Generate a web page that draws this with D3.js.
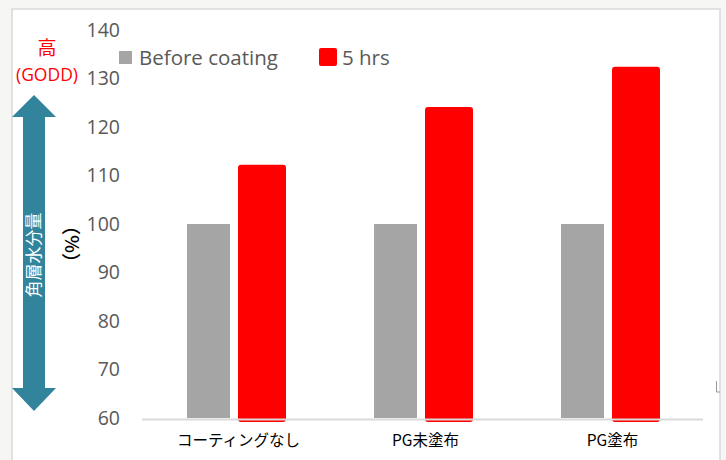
<!DOCTYPE html>
<html>
<head>
<meta charset="utf-8">
<script src="https://cdn.jsdelivr.net/npm/d3@7"></script>
<style>
  body { margin: 0; background: #f6f7f4; }
  svg { display: block; }
</style>
</head>
<body>
<div id="chart"></div>
<script>
// chart data
var categories = ["コーティングなし", "PG未塗布", "PG塗布"];
var seriesNames = ["Before coating", "5 hrs"];
var beforeValues = [100, 100, 100];
var afterValues = [112.2, 124.1, 132.4];
var yTicks = [60, 70, 80, 90, 100, 110, 120, 130, 140];

var W = 726, H = 460;
var cjk = "'Noto Sans CJK JP', 'Noto Sans', sans-serif";
var latin = "'Open Sans', 'Liberation Sans', sans-serif";

var svg = d3.select("#chart").append("svg")
    .attr("width", W)
    .attr("height", H);

// white panel with light frame
svg.append("rect")
    .attr("x", 12).attr("y", 9)
    .attr("width", 708).attr("height", H)
    .attr("fill", "#fff")
    .attr("stroke", "#d9d9d9")
    .attr("stroke-width", 1.5);

//scales
var xScale = d3.scaleBand()
    .domain(categories)
    .range([143, 704])
    .padding(0);

var yScale = d3.scaleLinear()
    .domain([60, 140])
    .range([418, 30]);

// y tick labels (no axis line)
var yAxis = d3.axisLeft(yScale)
    .tickValues(yTicks)
    .tickSize(0)
    .tickPadding(0);

var yg = svg.append("g")
    .attr("transform", "translate(120,0)")
    .call(yAxis);
yg.select(".domain").remove();
yg.selectAll("text")
    .attr("fill", "#595959")
    .style("font-family", latin)
    .style("font-size", "19.5px");

// bars
var grayOff = 44, grayW = 43, redOff = 95, redW = 48;

svg.selectAll(".bar-before")
    .data(beforeValues)
    .enter().append("rect")
    .attr("class", "bar-before")
    .attr("x", function(d, i) { return xScale(categories[i]) + grayOff; })
    .attr("y", function(d) { return yScale(d); })
    .attr("width", grayW)
    .attr("height", function(d) { return yScale(60) - yScale(d); })
    .attr("fill", "#a5a5a5");

svg.selectAll(".bar-after")
    .data(afterValues)
    .enter().append("rect")
    .attr("class", "bar-after")
    .attr("x", function(d, i) { return xScale(categories[i]) + redOff; })
    .attr("y", function(d) { return yScale(d); })
    .attr("width", redW)
    .attr("height", function(d) { return yScale(60) - yScale(d) + 4; })
    .attr("rx", 3)
    .attr("fill", "#ff0000");

// x axis line
svg.append("line")
    .attr("x1", 142).attr("x2", 703)
    .attr("y1", 419.5).attr("y2", 419.5)
    .attr("stroke", "#d9d9d9")
    .attr("stroke-width", 2);

// x labels
var xAxis = d3.axisBottom(xScale).tickSize(0).tickPadding(0);
var xg = svg.append("g")
    .attr("transform", "translate(0,438)")
    .call(xAxis);
xg.select(".domain").remove();
xg.selectAll("text")
    .attr("fill", "#000")
    .attr("dy", "0.5em")
    .attr("dx", 2)
    .style("font-family", cjk)
    .style("font-size", "15.5px");

// legend
var legend = svg.append("g");
legend.append("rect")
    .attr("x", 119).attr("y", 51).attr("width", 13).attr("height", 13)
    .attr("fill", "#a5a5a5");
legend.append("text")
    .attr("x", 139).attr("y", 65)
    .attr("fill", "#595959")
    .style("font-family", latin)
    .style("font-size", "20.5px")
    .text(seriesNames[0]);
legend.append("rect")
    .attr("x", 319).attr("y", 48).attr("width", 18).attr("height", 18)
    .attr("rx", 2)
    .attr("fill", "#ff0000");
legend.append("text")
    .attr("x", 342).attr("y", 65)
    .attr("fill", "#595959")
    .style("font-family", latin)
    .style("font-size", "20.5px")
    .text(seriesNames[1]);

// left annotation: 高 (GODD) and double arrow
svg.append("text")
    .attr("x", 47).attr("y", 55)
    .attr("text-anchor", "middle")
    .attr("fill", "#ff0000")
    .style("font-family", cjk)
    .style("font-size", "19px")
    .text("高");
svg.append("text")
    .attr("x", 47).attr("y", 81)
    .attr("text-anchor", "middle")
    .attr("fill", "#ff0000")
    .style("font-family", latin)
    .style("font-size", "17.5px")
    .text("(GODD)");

var arrowPts = [
  [34, 95], [56, 117], [45, 117], [45, 388], [56, 388],
  [34, 411], [12, 388], [23, 388], [23, 117], [12, 117]
];
svg.append("path")
    .attr("d", d3.line()(arrowPts) + "Z")
    .attr("fill", "#31849b");

svg.append("text")
    .attr("transform", "translate(40,255) rotate(-90)")
    .attr("text-anchor", "middle")
    .attr("fill", "#fff")
    .style("font-family", cjk)
    .style("font-size", "17px")
    .text("角層水分量");

svg.append("text")
    .attr("transform", "translate(79,244) rotate(-90)")
    .attr("text-anchor", "middle")
    .attr("fill", "#000")
    .style("font-family", cjk)
    .style("font-size", "19px")
    .style("font-weight", "500")
    .text("（%）");

// small marker at right edge
svg.append("path")
    .attr("d", "M716.5,381 V392 H720")
    .attr("fill", "none")
    .attr("stroke", "#999")
    .attr("stroke-width", 1);
</script>
</body>
</html>
